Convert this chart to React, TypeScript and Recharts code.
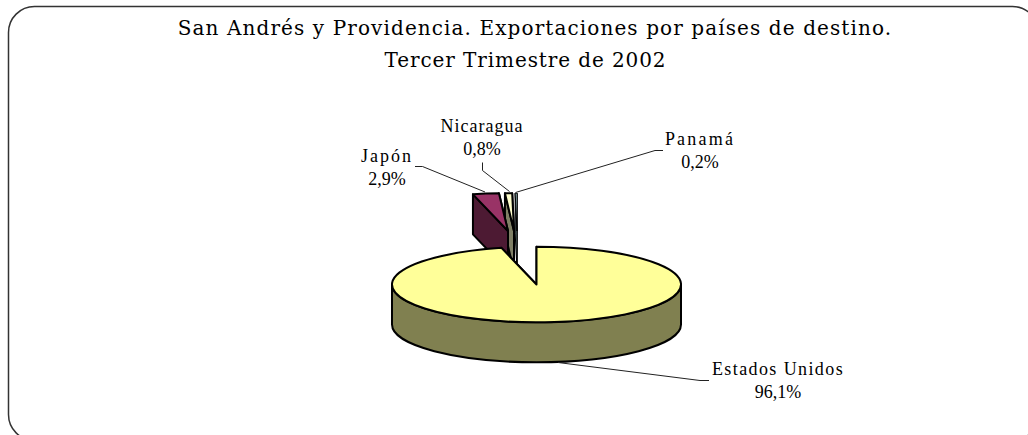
import React from 'react';
import { PieChart, Pie } from 'recharts';

const countries = ['Panamá', 'Nicaragua', 'Japón', 'Estados Unidos'];
const shares = [0.2, 0.8, 2.9, 96.1];
const topColors = ['#CCFFFF', '#FFFFCC', '#993366', '#FFFF99'];
const wallColors = ['#668080', '#808066', '#4D1A33', '#808050'];
const titleLines = [
  'San Andrés y Providencia. Exportaciones por países de destino.',
  'Tercer Trimestre de 2002',
];

const pieData = countries.map((name, i) => ({
  name,
  value: shares[i],
  fill: topColors[i],
  wall: wallColors[i],
}));

const RX = 144.5;
const RY = 37.8;
const DEPTH = 40;

// pulled-out slices: offset of the tip from the pie centre
const explode: Record<string, [number, number]> = {
  'Panamá': [-19.5, -53.5],
  'Nicaragua': [-22.5, -53.5],
  'Japón': [-28.5, -53.5],
  'Estados Unidos': [0, 0],
};

// label centre x, first baseline, name spacing and leader line points
const labelLayout: Record<string, { x: number; y: number; gap: number; line: string }> = {
  'Panamá': { x: 700, y: 145, gap: 2.2, line: '663,150.5 655,150.5 515.5,192.5' },
  'Nicaragua': { x: 482, y: 132, gap: 1, line: '482.5,162.5 482.5,170.5 509.5,191.5' },
  'Japón': { x: 387, y: 162, gap: 2, line: '415,166.5 422.5,166.5 485,192' },
  'Estados Unidos': { x: 778, y: 375, gap: 1.4, line: '709,380.5 700,380.5 558,362.5' },
};

const pt = (cx: number, cy: number, deg: number) => {
  const a = (deg * Math.PI) / 180;
  return [cx + RX * Math.cos(a), cy - RY * Math.sin(a)];
};

const Slice3D = (props: any) => {
  const { cx, cy, startAngle, endAngle, fill, name, payload } = props;
  const key = name ?? payload?.name;
  const [dx, dy] = explode[key];
  const wall = payload?.wall;
  const x0 = cx + dx;
  const y0 = cy + dy;
  const [sx, sy] = pt(x0, y0, startAngle);
  const [ex, ey] = pt(x0, y0, endAngle);
  const large = endAngle - startAngle > 180 ? 1 : 0;
  const cut = (x: number, y: number) =>
    `M${x0},${y0} L${x},${y} L${x},${y + DEPTH} L${x0},${y0 + DEPTH} Z`;
  const lo = Math.max(startAngle, 180);
  const hi = Math.min(endAngle, 360);
  let rim = '';
  if (hi > lo) {
    const [ax, ay] = pt(x0, y0, lo);
    const [bx, by] = pt(x0, y0, hi);
    rim = `M${ax},${ay} A${RX},${RY} 0 0 0 ${bx},${by} L${bx},${by + DEPTH} A${RX},${RY} 0 0 1 ${ax},${ay + DEPTH} Z`;
  }
  const thin = endAngle - startAngle < 1;
  return (
    <g stroke="#000" strokeWidth={thin ? 1 : 2} strokeLinejoin="round">
      <path d={cut(sx, sy)} fill={wall} />
      <path d={cut(ex, ey)} fill={wall} />
      {rim && <path d={rim} fill={wall} />}
      <path d={`M${x0},${y0} L${sx},${sy} A${RX},${RY} 0 ${large} 0 ${ex},${ey} Z`} fill={fill} />
    </g>
  );
};

const SliceLabel = (props: any) => {
  const { name, value } = props;
  const l = labelLayout[name];
  return (
    <g fontFamily="'Liberation Serif'" fontSize={18} fill="#000" textAnchor="middle">
      <polyline points={l.line} fill="none" stroke="#222" strokeWidth={1} />
      <text x={l.x} y={l.y} letterSpacing={l.gap} stroke="none">{name}</text>
      <text x={l.x} y={l.y + 23} stroke="none">{`${String(value).replace('.', ',')}%`}</text>
    </g>
  );
};

export default function App() {
  return (
    <div style={{ position: 'absolute', left: 0, top: 0, width: 1028, height: 435, overflow: 'hidden', background: '#fff' }}>
      <PieChart width={1028} height={435} margin={{ top: 0, right: 0, bottom: 0, left: 0 }}>
        <rect x={8.5} y={6.5} width={1030} height={434} rx={26} ry={26} fill="#fff" stroke="#333" strokeWidth={1.5} />
        {titleLines.map((t, i) => (
          <text key={t} x={i === 0 ? 535 : 525.5} y={35 + i * 32} textAnchor="middle" fontFamily="'DejaVu Serif'" fontSize={20} letterSpacing={i === 0 ? 1.1 : 0.9} fill="#000">
            {t}
          </text>
        ))}
        <Pie
          data={pieData}
          dataKey="value"
          nameKey="name"
          cx={536.5}
          cy={284.5}
          outerRadius={RX}
          startAngle={90}
          endAngle={450}
          stroke="none"
          isAnimationActive={false}
          shape={Slice3D}
          label={SliceLabel}
          labelLine={false}
        />
      </PieChart>
    </div>
  );
}
